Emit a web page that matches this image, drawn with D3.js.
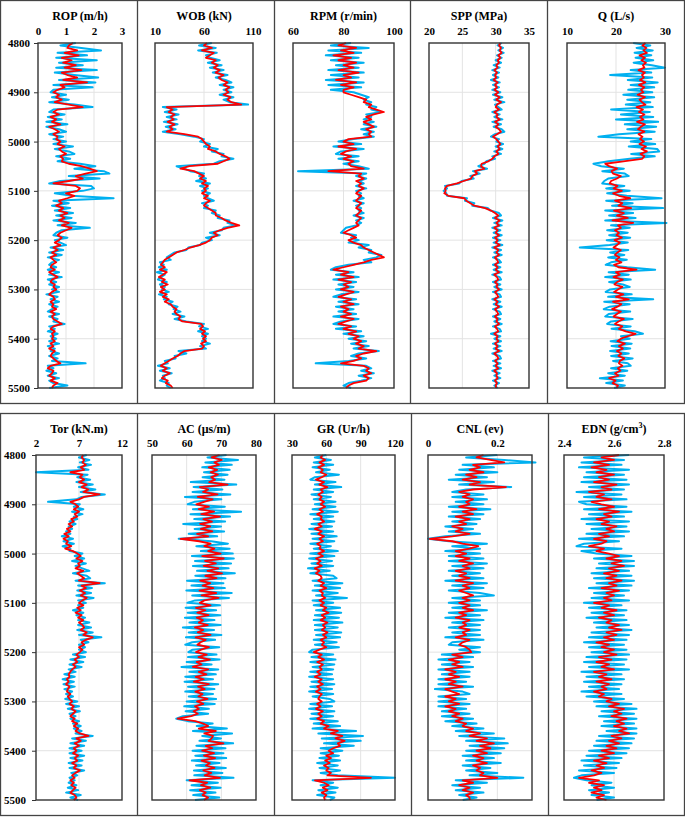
<!DOCTYPE html>
<html><head><meta charset="utf-8">
<script src="https://cdn.jsdelivr.net/npm/d3@7"></script>
<style>body{margin:0;background:#fff}svg{display:block}</style>
</head><body>
<script>
// ---------- DATA ----------
const depthStart = 4800, depthStep = 5;
const depthTicks = [4800,4900,5000,5100,5200,5300,5400,5500];

const ropTicks = [0,1,2,3];
const wobTicks = [10,60,110];
const rpmTicks = [60,80,100];
const sppTicks = [20,25,30,35];
const qTicks = [10,20,30];
const torTicks = [2,7,12];
const acTicks = [50,60,70,80];
const grTicks = [30,60,90,120];
const cnlTicks = [0,0.2];
const cnlDomain = [0,0.3];
const ednTicks = [2.4,2.6,2.8];

const ropRed = [1.25,1.10,1.05,1.40,0.95,1.45,0.85,1.20,0.90,1.35,
 0.95,1.55,0.85,1.05,1.40,0.90,1.75,0.80,0.95,0.70,
 0.55,0.75,0.65,0.85,0.60,1.10,1.60,0.70,0.55,0.75,
 0.45,0.65,0.50,0.80,0.40,0.60,0.75,0.55,0.70,0.65,
 0.80,0.70,0.95,0.75,0.85,1.00,0.80,0.90,0.85,1.10,
 1.55,1.85,2.10,1.70,1.35,1.60,1.10,0.55,1.35,1.50,
 1.40,1.00,1.30,1.05,0.75,0.85,0.65,0.90,0.75,1.05,
 0.80,0.95,0.75,1.10,0.85,1.20,1.00,0.80,0.70,0.85,
 0.75,0.60,0.80,0.55,0.70,0.50,0.65,0.45,0.55,0.65,
 0.50,0.45,0.60,0.40,0.55,0.70,0.50,0.45,0.60,0.55,
 0.65,0.50,0.40,0.55,0.60,0.45,0.55,0.50,0.65,0.45,
 0.60,0.50,0.55,0.70,0.85,0.55,0.45,0.60,0.50,0.55,
 0.50,0.60,0.45,0.55,0.40,0.60,0.50,0.45,0.55,0.65,
 0.80,0.45,0.35,0.55,0.50,0.40,0.60,0.45,0.70,0.55,
 0.50];
const ropBlue = [1.35,0.80,1.55,2.25,0.70,1.75,0.65,2.10,0.75,1.60,
 0.65,2.10,0.60,1.30,2.15,0.75,2.05,0.55,1.95,0.55,
 0.45,1.00,0.50,1.10,0.40,1.30,1.95,0.55,0.40,0.95,
 0.35,0.85,0.30,1.05,0.30,0.75,1.00,0.40,0.90,0.55,
 1.00,0.55,1.25,0.60,1.10,1.30,0.65,1.15,0.70,1.50,
 2.05,1.30,2.35,2.55,1.10,2.20,0.80,0.40,1.90,2.00,
 1.60,0.60,1.20,2.70,0.55,1.10,0.50,1.15,0.60,1.25,
 0.65,1.20,0.55,1.35,0.70,1.85,0.85,0.65,0.55,1.05,
 0.60,0.80,1.00,0.45,0.90,0.40,0.85,0.35,0.75,0.50,
 0.40,0.65,0.35,0.75,0.40,0.85,0.35,0.65,0.40,0.75,
 0.50,0.75,0.30,0.70,0.45,0.75,0.40,0.70,0.50,0.35,
 0.75,0.40,0.70,0.55,0.95,0.40,0.60,0.35,0.70,0.45,
 0.65,0.40,0.75,0.35,0.60,0.45,0.75,0.40,0.70,0.50,
 1.70,0.35,0.55,0.30,0.65,0.35,0.75,0.40,0.55,1.05,
 0.40];

const wobRed = [63,60,68,58,70,66,62,72,68,74,
 70,76,72,80,75,78,84,80,86,82,
 85,80,87,84,88,98,22,28,24,30,
 26,29,23,30,25,28,22,40,54,58,
 60,62,66,64,72,76,82,86,80,74,
 45,36,50,55,60,56,62,58,64,60,
 62,58,64,60,66,62,60,64,68,72,
 72,78,82,88,96,84,76,70,74,68,
 66,62,55,46,40,32,28,24,20,18,
 16,20,15,22,18,14,20,17,23,16,
 20,15,22,18,24,20,26,28,32,30,
 32,36,34,38,57,59,56,61,58,62,
 59,62,57,60,58,40,36,33,28,24,
 20,16,22,18,25,20,17,23,21,26,
 28];
const wobBlue = [68,55,72,54,73,62,66,76,64,78,
 66,80,69,84,72,82,88,76,90,80,
 88,76,90,80,86,105,18,32,20,34,
 22,32,19,33,21,31,18,36,50,60,
 56,66,60,74,68,80,78,90,76,70,
 32,40,46,60,55,62,52,66,56,64,
 58,66,60,64,70,58,64,60,72,68,
 76,74,86,84,92,80,78,66,76,62,
 68,58,56,44,42,30,26,22,26,15,
 19,14,22,12,20,16,13,22,15,20,
 17,24,14,22,19,28,24,33,29,36,
 28,40,30,42,60,55,64,54,64,58,
 62,58,66,56,62,34,42,30,31,20,
 23,13,25,15,27,18,20,15,24,22,
 26];

const rpmRed = [81,78,85,79,84,76,83,78,85,80,
 84,78,86,80,83,77,85,79,84,80,
 80,83,86,89,88,91,90,93,96,92,
 89,91,88,90,92,89,91,90,91,82,
 80,84,78,85,81,79,83,80,84,82,
 83,88,74,87,86,88,85,87,86,88,
 86,85,87,86,85,87,86,85,87,86,
 85,87,86,85,86,84,82,80,83,85,
 82,84,87,88,90,92,94,96,91,88,
 84,80,76,82,79,84,78,83,80,82,
 79,84,81,78,83,80,84,79,82,80,
 83,79,84,81,78,83,80,85,82,86,
 84,87,85,88,86,93,88,85,87,84,
 79,88,90,89,91,88,90,89,84,82,
 81];
const rpmBlue = [83,75,90,74,87,73,86,75,88,77,
 86,74,88,75,86,73,88,74,87,75,
 84,87,90,88,91,89,93,91,95,89,
 91,88,92,88,93,87,92,88,92,84,
 78,87,76,88,79,77,86,78,86,80,
 86,90,62,89,85,89,86,88,85,89,
 85,87,86,88,84,88,85,87,86,88,
 84,88,85,87,85,81,80,79,85,83,
 86,82,90,86,91,90,95,93,88,91,
 82,77,75,84,77,86,76,85,78,84,
 77,86,79,76,85,78,86,77,84,78,
 85,76,86,79,76,85,77,87,80,88,
 82,89,83,90,84,94,86,83,89,82,
 69,89,91,87,92,86,91,87,82,80,
 83];

const sppRed = [30.7,30.5,30.8,30.6,30.9,30.4,30.7,30.3,30.5,30.1,
 30.3,29.8,30.2,29.9,30.1,29.7,30.3,29.9,30.2,29.8,
 30.4,29.9,30.6,30.1,30.8,30.2,30.0,30.5,29.8,30.3,
 30.1,30.6,29.9,30.4,30.0,30.5,30.8,30.2,29.6,30.1,
 30.4,30.7,30.3,30.6,30.1,30.4,29.8,29.5,28.9,27.9,
 27.8,28.3,26.9,27.2,26.5,26.3,25.2,24.2,22.7,22.4,
 22.5,22.3,22.9,25.3,25.6,26.2,26.8,28.4,29.3,29.9,
 30.4,29.9,30.6,30.1,30.5,29.8,30.3,30.0,30.5,29.9,
 30.3,30.0,30.6,29.8,30.4,30.1,30.5,29.9,30.2,30.4,
 29.9,30.3,30.0,30.5,29.8,30.2,30.4,29.9,30.3,30.1,
 30.5,29.9,30.2,30.4,29.8,30.3,30.0,30.5,29.9,30.2,
 30.4,29.9,30.3,30.1,30.5,29.9,30.2,30.4,29.8,30.3,
 30.1,30.4,29.9,30.3,30.0,30.5,29.8,30.2,30.4,29.9,
 30.3,30.0,30.4,29.8,30.2,30.1,30.3,29.9,30.2,30.0,
 30.1];
const sppBlue = [30.9,30.3,31.1,30.4,31.2,30.2,30.9,30.0,30.8,29.7,
 30.6,29.5,30.5,29.6,30.4,29.3,30.6,29.6,30.5,29.5,
 30.7,29.6,31.0,29.8,31.3,29.9,30.4,30.9,29.5,30.6,
 29.8,31.0,29.5,30.8,29.7,30.9,31.3,29.9,29.3,30.5,
 30.1,31.1,30.0,31.0,29.8,30.8,29.5,29.9,28.6,28.3,
 27.4,28.7,26.6,27.6,26.2,26.7,24.9,24.5,22.4,22.7,
 22.2,22.6,22.7,25.7,25.4,26.8,26.5,28.8,29.2,30.5,
 30.8,29.6,31.0,29.8,30.9,29.5,30.7,29.7,30.9,29.6,
 30.7,29.7,31.0,29.5,30.8,29.8,30.9,29.6,30.5,30.8,
 29.6,30.7,29.7,30.9,29.5,30.6,30.8,29.6,30.7,29.8,
 30.9,29.6,30.6,30.8,29.5,30.7,29.7,30.9,29.6,30.6,
 30.8,29.6,30.7,29.8,30.9,29.6,30.6,30.8,29.3,30.7,
 29.8,30.8,29.6,30.7,29.7,30.9,29.5,30.6,30.8,29.6,
 30.7,29.7,30.8,29.5,30.6,29.8,30.7,29.6,30.5,29.8,
 30.3];

const qRed = [26.0,25.4,26.2,25.6,26.3,24.8,25.9,25.2,26.1,25.5,
 25.8,24.6,25.9,25.3,25.7,24.9,26.0,24.7,25.8,25.1,
 25.6,24.4,25.9,24.8,25.3,26.0,24.2,25.5,24.7,25.8,
 24.9,25.6,24.3,25.9,25.1,24.5,25.8,24.6,25.4,24.9,
 25.7,24.8,26.1,25.2,26.3,25.0,25.8,25.3,21.5,17.8,
 18.6,20.2,19.1,19.4,21.0,20.2,19.0,18.7,20.3,19.5,
 21.2,19.4,20.6,22.9,19.8,21.3,20.5,23.1,19.6,21.6,
 20.2,22.4,19.3,23.5,20.4,21.0,19.8,20.6,20.1,21.2,
 19.7,20.8,20.2,19.5,21.0,20.3,19.8,20.7,20.0,21.1,
 19.6,20.5,24.2,20.0,20.8,19.5,21.4,20.2,19.7,21.3,
 20.4,19.6,21.5,20.0,22.6,19.4,21.1,20.3,19.2,21.0,
 20.2,19.5,21.6,20.5,19.8,21.3,20.6,22.0,24.0,22.4,
 21.0,20.3,21.8,20.6,21.4,20.2,21.1,20.5,21.7,20.8,
 20.6,21.3,20.4,20.9,19.8,20.5,18.6,19.9,19.3,20.4,
 20.1];
const qBlue = [23.5,27.0,24.2,27.5,23.8,27.2,24.0,27.6,23.6,27.3,
 30.0,23.0,27.2,18.8,27.4,22.4,28.5,23.0,27.8,22.5,
 27.4,21.5,27.8,22.3,27.0,22.0,27.5,19.0,26.9,21.0,
 27.6,20.0,28.6,21.8,28.2,22.3,27.9,20.6,16.4,27.2,
 23.0,28.0,22.6,28.4,28.8,23.1,27.9,22.8,18.5,15.4,
 17.0,21.6,17.2,21.8,22.6,18.4,17.6,17.2,21.7,18.0,
 22.8,18.2,22.2,29.3,18.0,23.4,19.2,29.6,17.8,23.5,
 18.6,24.0,17.8,30.3,19.0,22.8,18.2,22.4,18.6,22.9,
 18.1,22.4,18.7,12.6,22.5,18.8,21.7,18.4,22.2,19.0,
 17.9,22.3,28.0,18.5,22.6,17.8,23.0,18.6,21.4,22.8,
 18.8,17.9,23.2,18.4,27.6,17.6,22.8,18.7,17.5,22.9,
 18.5,17.8,23.4,19.0,18.2,23.0,19.1,23.8,25.5,21.0,
 22.8,18.9,23.2,19.1,22.9,18.8,22.6,19.0,23.4,19.4,
 22.4,23.0,19.0,22.3,18.4,21.8,16.7,21.4,18.0,21.8,
 19.6];

const torRed = [7.5,7.3,7.6,7.4,7.8,7.2,7.6,6.0,7.4,7.1,
 7.6,7.0,7.9,7.3,8.1,7.5,9.4,7.6,7.0,6.0,
 6.6,6.9,6.4,7.0,6.5,6.8,6.1,6.4,5.8,6.2,
 5.6,6.0,5.3,5.8,5.2,5.7,5.5,6.1,5.4,6.3,
 6.8,7.2,6.7,7.4,6.9,7.1,6.6,7.5,6.8,7.2,
 7.6,7.0,9.4,7.3,7.8,7.1,7.7,7.2,7.9,7.4,
 7.0,7.5,6.8,7.2,6.6,7.3,6.9,7.5,7.0,7.4,
 7.6,7.2,7.9,7.5,8.6,7.8,7.3,7.6,7.0,7.4,
 7.1,6.7,7.0,6.5,6.8,6.3,6.6,6.2,6.0,5.8,
 5.9,5.6,5.8,5.5,5.9,5.7,5.6,6.0,5.7,5.9,
 6.2,5.9,6.4,6.1,6.6,6.3,6.0,6.5,6.2,6.8,
 6.4,6.9,6.6,7.1,8.1,6.7,7.2,6.5,7.0,6.4,
 6.7,6.3,6.9,6.5,6.8,6.2,6.7,6.4,7.1,6.6,
 6.2,6.5,6.0,6.4,6.1,6.6,6.3,6.0,6.5,6.7,
 6.4];
const torBlue = [7.9,7.0,8.2,7.1,8.4,6.9,8.1,2.0,8.0,6.8,
 8.3,6.7,8.6,7.0,8.9,7.2,10.0,7.3,6.7,3.4,
 7.1,6.4,7.5,6.2,7.4,6.4,6.8,5.9,6.6,5.8,
 6.2,5.5,6.0,5.0,6.3,5.2,6.4,5.1,6.0,5.9,
 7.4,6.5,7.6,6.2,7.8,6.6,7.4,8.2,6.3,7.9,
 8.3,6.6,10.0,6.9,8.5,6.8,8.4,6.7,8.7,6.9,
 7.8,6.9,7.5,6.3,7.5,6.7,7.7,6.9,8.2,6.9,
 8.4,6.8,8.6,7.0,9.6,7.2,8.1,7.0,7.7,7.0,
 7.8,6.3,7.7,6.0,7.5,5.9,7.3,5.8,6.6,5.3,
 6.5,5.1,6.4,5.2,6.5,5.3,6.2,5.5,6.3,5.4,
 6.8,5.5,7.0,5.7,7.1,5.9,6.6,6.0,7.0,6.3,
 7.2,6.4,7.3,6.6,8.6,6.2,7.8,6.0,7.6,5.9,
 7.3,5.9,7.6,6.0,7.4,5.8,7.3,5.9,7.6,6.1,
 6.8,5.9,6.5,5.8,6.7,5.7,6.9,5.5,7.2,6.0,
 6.9];

const acRed = [69.5,67.2,70.1,68.0,69.3,66.4,68.8,66.9,69.0,67.1,
 68.2,66.5,71.8,63.8,66.2,64.7,68.9,63.2,67.5,65.0,
 62.8,66.4,63.5,67.9,64.2,69.6,64.8,67.3,63.9,66.8,
 64.1,67.4,63.0,66.2,58.2,63.6,66.9,65.1,68.0,66.2,
 69.8,64.5,70.7,65.3,68.4,64.9,69.1,66.0,70.2,65.4,
 68.6,63.9,66.8,64.6,67.7,63.7,68.5,64.3,69.2,65.1,
 63.8,66.9,62.7,65.4,63.1,66.3,62.9,64.7,63.5,66.1,
 62.4,64.8,63.2,66.9,62.6,65.5,64.0,63.1,66.4,64.2,
 62.7,65.8,63.4,66.7,62.9,64.3,61.8,66.2,63.5,65.7,
 62.6,64.9,62.1,66.4,63.3,65.2,62.5,64.6,63.4,66.0,
 63.0,64.8,62.4,63.5,62.0,63.2,61.3,57.4,62.5,64.8,
 66.2,63.5,68.4,65.1,67.6,67.2,66.3,70.6,65.5,67.4,
 64.5,67.9,65.0,68.2,64.3,66.7,65.6,68.0,64.8,67.1,
 65.2,69.6,60.8,65.9,64.1,66.8,63.8,65.5,64.6,66.2,
 65.0];
const acBlue = [71.5,66.0,74.8,65.4,73.0,64.5,72.4,65.0,71.8,64.6,
 70.9,61.2,74.3,62.0,70.3,61.7,72.6,59.5,70.0,62.2,
 60.3,71.0,61.8,75.7,61.1,72.5,62.2,71.1,59.0,69.9,
 62.3,70.8,60.6,68.8,57.7,67.1,71.9,62.8,72.4,64.1,
 73.3,61.5,73.6,62.4,72.8,61.8,72.1,63.0,73.9,62.5,
 71.2,60.1,70.6,61.4,71.0,59.9,73.0,61.6,72.2,62.4,
 60.2,69.6,59.7,68.5,60.3,69.7,59.5,68.0,60.8,69.8,
 58.9,67.9,60.6,70.0,59.8,68.2,61.6,59.6,69.4,61.7,
 60.5,68.6,60.4,69.5,60.0,67.2,58.5,69.1,60.8,68.4,
 59.6,67.6,59.4,69.1,60.4,68.0,59.6,67.6,60.6,68.5,
 60.0,68.1,59.3,66.4,59.7,66.2,58.9,57.0,60.3,67.5,
 62.9,71.6,61.8,73.1,64.5,69.9,63.7,73.4,62.8,71.2,
 61.7,70.6,62.5,71.4,61.5,69.5,62.7,71.3,62.1,70.3,
 62.2,73.5,60.0,69.0,61.4,69.8,61.0,68.3,61.9,69.4,
 62.4];

const grRed = [57,55,59,54,58,53,57,55,60,56,
 51,58,54,61,55,57,53,56,54,58,
 55,59,54,57,52,56,55,58,53,56,
 50,56,53,58,54,57,52,55,54,58,
 53,57,51,55,52,56,50,54,51,55,
 56,53,58,55,60,54,57,56,59,54,
 58,55,60,57,62,56,59,55,61,57,
 59,56,61,57,60,55,58,56,60,54,
 49,56,53,58,52,57,54,56,52,55,
 50,56,53,57,52,55,51,56,54,53,
 56,52,55,51,57,53,56,52,58,55,
 62,58,70,64,74,68,76,70,72,66,
 62,66,60,64,59,63,58,62,60,64,
 61,99,50,58,62,57,61,56,60,58,
 59];
const grBlue = [60,50,64,49,66,48,63,51,71,50,
 46,68,50,73,49,66,47,64,49,68,
 50,68,48,70,46,66,49,67,47,65,
 45,66,47,69,48,67,46,64,49,70,
 46,67,45,65,47,66,44,63,46,66,
 69,48,74,50,72,48,70,51,78,48,
 66,49,72,51,73,50,71,49,74,50,
 70,50,73,51,72,49,69,50,71,48,
 45,66,47,68,46,67,48,66,46,65,
 45,66,47,67,46,65,45,66,48,63,
 67,46,65,45,67,47,66,46,70,49,
 72,48,86,53,92,56,90,58,84,55,
 74,55,71,54,72,52,70,54,72,55,
 70,120,48,66,55,70,53,68,52,67,
 63];

const cnlRed = [0.16,0.14,0.18,0.22,0.13,0.15,0.12,0.16,0.11,0.14,
 0.10,0.15,0.12,0.225,0.13,0.09,0.12,0.10,0.13,0.11,
 0.12,0.09,0.14,0.10,0.13,0.08,0.12,0.09,0.11,0.07,
 0.10,0.08,0.12,0.07,0.005,0.07,0.10,0.145,0.12,0.08,
 0.11,0.08,0.12,0.09,0.13,0.10,0.12,0.08,0.11,0.09,
 0.12,0.08,0.13,0.10,0.12,0.09,0.11,0.13,0.10,0.12,
 0.09,0.12,0.10,0.13,0.09,0.11,0.08,0.12,0.10,0.11,
 0.09,0.12,0.10,0.11,0.08,0.12,0.10,0.09,0.11,0.12,
 0.125,0.07,0.10,0.06,0.09,0.07,0.10,0.05,0.08,0.06,
 0.09,0.05,0.08,0.06,0.10,0.05,0.07,0.09,0.05,0.08,
 0.06,0.09,0.05,0.08,0.06,0.09,0.07,0.10,0.08,0.11,
 0.10,0.13,0.11,0.15,0.12,0.17,0.14,0.19,0.15,0.18,
 0.14,0.17,0.13,0.16,0.14,0.17,0.13,0.15,0.14,0.16,
 0.15,0.20,0.10,0.13,0.09,0.12,0.10,0.13,0.11,0.12,
 0.12];
const cnlBlue = [0.20,0.11,0.22,0.31,0.10,0.19,0.09,0.20,0.08,0.17,
 0.06,0.19,0.09,0.24,0.11,0.07,0.16,0.07,0.17,0.08,
 0.16,0.06,0.18,0.07,0.16,0.06,0.15,0.07,0.14,0.05,
 0.13,0.06,0.15,0.05,0.00,0.06,0.17,0.07,0.15,0.05,
 0.15,0.06,0.16,0.06,0.17,0.07,0.16,0.06,0.15,0.07,
 0.16,0.05,0.17,0.07,0.16,0.06,0.15,0.19,0.07,0.15,
 0.06,0.15,0.07,0.17,0.06,0.15,0.05,0.16,0.07,0.15,
 0.06,0.15,0.07,0.15,0.05,0.16,0.07,0.06,0.15,0.09,
 0.15,0.04,0.13,0.03,0.12,0.04,0.13,0.03,0.12,0.04,
 0.12,0.03,0.11,0.03,0.13,0.02,0.10,0.12,0.03,0.11,
 0.03,0.12,0.03,0.11,0.04,0.12,0.04,0.13,0.05,0.14,
 0.07,0.16,0.08,0.19,0.09,0.22,0.11,0.23,0.12,0.22,
 0.11,0.21,0.10,0.19,0.11,0.21,0.10,0.18,0.11,0.20,
 0.12,0.275,0.08,0.17,0.07,0.15,0.08,0.16,0.09,0.14,
 0.10];

const ednRed = [2.62,2.55,2.60,2.52,2.58,2.51,2.57,2.53,2.60,2.54,
 2.58,2.52,2.61,2.55,2.59,2.50,2.56,2.53,2.59,2.51,
 2.55,2.60,2.54,2.62,2.56,2.59,2.53,2.58,2.55,2.61,
 2.57,2.60,2.54,2.58,2.52,2.57,2.55,2.50,2.56,2.53,
 2.58,2.62,2.57,2.63,2.59,2.64,2.58,2.62,2.56,2.61,
 2.57,2.63,2.58,2.61,2.55,2.62,2.57,2.60,2.56,2.59,
 2.52,2.58,2.55,2.61,2.56,2.60,2.54,2.59,2.57,2.62,
 2.58,2.63,2.57,2.61,2.56,2.60,2.53,2.58,2.55,2.60,
 2.56,2.61,2.54,2.59,2.53,2.58,2.55,2.60,2.52,2.57,
 2.54,2.59,2.53,2.58,2.55,2.57,2.52,2.56,2.54,2.59,
 2.57,2.62,2.58,2.64,2.60,2.63,2.59,2.65,2.61,2.64,
 2.60,2.65,2.62,2.66,2.59,2.63,2.58,2.62,2.57,2.61,
 2.55,2.60,2.54,2.58,2.52,2.57,2.53,2.56,2.51,2.55,
 2.52,2.46,2.54,2.50,2.56,2.52,2.55,2.51,2.56,2.53,
 2.57];
const ednBlue = [2.66,2.48,2.64,2.47,2.63,2.46,2.66,2.49,2.64,2.48,
 2.65,2.47,2.66,2.50,2.64,2.45,2.63,2.48,2.65,2.46,
 2.49,2.65,2.48,2.67,2.50,2.64,2.47,2.66,2.49,2.65,
 2.51,2.66,2.49,2.64,2.46,2.62,2.48,2.45,2.63,2.47,
 2.53,2.67,2.52,2.68,2.54,2.68,2.53,2.66,2.51,2.67,
 2.52,2.68,2.53,2.67,2.50,2.66,2.52,2.64,2.51,2.66,
 2.48,2.63,2.50,2.65,2.51,2.64,2.49,2.65,2.52,2.66,
 2.53,2.67,2.51,2.66,2.50,2.65,2.48,2.64,2.50,2.65,
 2.51,2.66,2.49,2.65,2.48,2.64,2.50,2.66,2.47,2.63,
 2.49,2.64,2.48,2.63,2.50,2.62,2.47,2.63,2.49,2.64,
 2.52,2.67,2.53,2.69,2.55,2.68,2.54,2.69,2.56,2.68,
 2.55,2.69,2.57,2.69,2.54,2.68,2.53,2.67,2.52,2.66,
 2.50,2.65,2.49,2.63,2.47,2.62,2.48,2.61,2.46,2.60,
 2.47,2.44,2.49,2.59,2.51,2.60,2.50,2.58,2.51,2.60,
 2.53];

// ---------- LAYOUT ----------
const W = 685, H = 817;
const FONT = "'Liberation Serif','Times New Roman',serif";
const rows = [
  {top: 0.5, bottom: 403.5, boxTop: 43, boxBot: 388, titleY: 19.5, tickY: 35, divs: [137.5, 274.5, 410.5, 547.5], labelPad: 4},
  {top: 413.5, bottom: 815.5, boxTop: 455, boxBot: 800, titleY: 432.5, tickY: 447, divs: [137.5, 274.5, 411.5, 548.5], labelPad: 6}
];
const panels = [
  {row:0, x0:38,  x1:122, title:"ROP (m/h)",   ticks:ropTicks, blue:ropBlue, red:ropRed, yaxis:true},
  {row:0, x0:155, x1:253, title:"WOB (kN)",    ticks:wobTicks, blue:wobBlue, red:wobRed},
  {row:0, x0:293, x1:394, title:"RPM (r/min)", ticks:rpmTicks, blue:rpmBlue, red:rpmRed},
  {row:0, x0:429, x1:529, title:"SPP (MPa)",   ticks:sppTicks, blue:sppBlue, red:sppRed},
  {row:0, x0:567, x1:665, title:"Q (L/s)",     ticks:qTicks,   blue:qBlue,   red:qRed},
  {row:1, x0:36,  x1:122, title:"Tor (kN.m)",  ticks:torTicks, blue:torBlue, red:torRed, yaxis:true},
  {row:1, x0:152, x1:256, title:"AC (μs/m)",   ticks:acTicks,  blue:acBlue,  red:acRed},
  {row:1, x0:292, x1:395, title:"GR (Ur/h)",   ticks:grTicks,  blue:grBlue,  red:grRed},
  {row:1, x0:428, x1:532, title:"CNL (ev)",    ticks:cnlTicks, domain:cnlDomain, blue:cnlBlue, red:cnlRed},
  {row:1, x0:564, x1:664, title:"EDN (g/cm3)", sup:true, ticks:ednTicks, blue:ednBlue, red:ednRed}
];

const svg = d3.select("body").append("svg").attr("width", W).attr("height", H)
  .style("font-family", FONT);

// cell borders
rows.forEach(r => {
  svg.append("rect").attr("x", 0.5).attr("y", r.top).attr("width", W - 1).attr("height", r.bottom - r.top)
    .attr("fill", "none").attr("stroke", "#444").attr("stroke-width", 1.3);
  r.divs.forEach(x => svg.append("line").attr("x1", x).attr("x2", x).attr("y1", r.top).attr("y2", r.bottom)
    .attr("stroke", "#444").attr("stroke-width", 1.3));
});

panels.forEach(p => {
  const r = rows[p.row];
  const dom = p.domain || [p.ticks[0], p.ticks[p.ticks.length - 1]];
  const x = d3.scaleLinear().domain(dom).range([p.x0, p.x1]);
  const y = d3.scaleLinear().domain([depthTicks[0], depthTicks[depthTicks.length - 1]]).range([r.boxTop, r.boxBot]);
  const g = svg.append("g");

  // gridlines
  g.selectAll("line.vg").data(p.ticks.filter(t => t > dom[0] && t < dom[1])).join("line")
    .attr("x1", d => x(d)).attr("x2", d => x(d)).attr("y1", r.boxTop).attr("y2", r.boxBot)
    .attr("stroke", "#e3e3e3").attr("stroke-width", 1);
  g.selectAll("line.hg").data(depthTicks.slice(1, -1)).join("line")
    .attr("x1", p.x0).attr("x2", p.x1).attr("y1", d => y(d)).attr("y2", d => y(d))
    .attr("stroke", "#e3e3e3").attr("stroke-width", 1);

  const toPts = arr => arr.map((v, i) => ({d: depthStart + i * depthStep, v}));
  const line = d3.line().x(d => x(d.v)).y(d => y(d.d));
  g.append("path").attr("d", line(toPts(p.blue))).attr("fill", "none")
    .attr("stroke", "#00B0F0").attr("stroke-width", 2).attr("stroke-linejoin", "round");
  g.append("path").attr("d", line(toPts(p.red))).attr("fill", "none")
    .attr("stroke", "#FF0000").attr("stroke-width", 1.8).attr("stroke-linejoin", "round");

  // box
  g.append("rect").attr("x", p.x0).attr("y", r.boxTop).attr("width", p.x1 - p.x0).attr("height", r.boxBot - r.boxTop)
    .attr("fill", "none").attr("stroke", "#333").attr("stroke-width", 1.4);

  // top axis labels
  const ax = g.append("g").attr("transform", `translate(0,${r.tickY})`)
    .call(d3.axisTop(x).tickValues(p.ticks).tickSize(0).tickPadding(0).tickFormat(d3.format("~g")));
  ax.select(".domain").remove();
  ax.selectAll("text").attr("font-family", FONT).attr("font-size", 11).attr("font-weight", "bold").attr("fill", "#000");

  // title
  const t = g.append("text").attr("x", (p.x0 + p.x1) / 2).attr("y", r.titleY).attr("text-anchor", "middle")
    .attr("font-size", 12).attr("font-weight", "bold").attr("fill", "#000");
  if (p.sup) {
    t.append("tspan").text("EDN (g/cm");
    t.append("tspan").text("3").attr("font-size", 8).attr("dy", -5);
    t.append("tspan").text(")").attr("dy", 5);
  } else t.text(p.title);

  // depth axis
  if (p.yaxis) {
    const ay = g.append("g").attr("transform", `translate(${p.x0},0)`)
      .call(d3.axisLeft(y).tickValues(depthTicks).tickSize(4).tickPadding(r.labelPad).tickFormat(d3.format("d")));
    ay.select(".domain").remove();
    ay.selectAll("line").attr("stroke", "#333");
    ay.selectAll("text").attr("font-family", FONT).attr("font-size", 11).attr("font-weight", "bold").attr("fill", "#000");
  }
});
</script>
</body></html>
